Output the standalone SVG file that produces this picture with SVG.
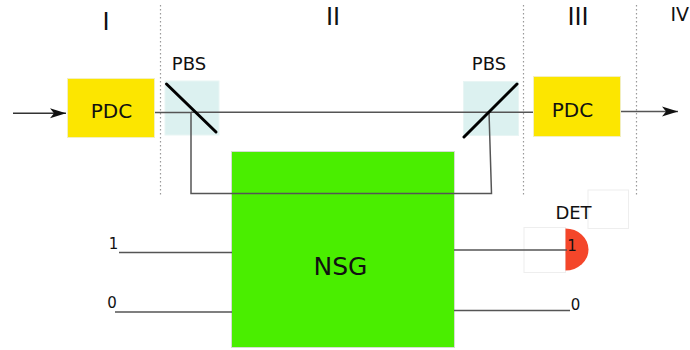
<svg xmlns="http://www.w3.org/2000/svg" width="690" height="350" viewBox="0 0 690 350">
<style>
text{font-family:"DejaVu Sans",sans-serif;fill:#111}
.lb{font-size:18px}
.pd{font-size:20px}
.rom{font-size:24px}
.bit{font-size:15px}
.pdc{fill:#fce600;stroke:#f3efc0;stroke-width:1}
.pbs{fill:#dcf1f0;stroke:#e8f5f4;stroke-width:1}
.dot{stroke:#999;stroke-width:1.2;stroke-dasharray:1.500 2.500;fill:none}
.w{stroke:#555;stroke-width:1.500;fill:none}
.m{stroke:#000;stroke-width:3;stroke-linecap:round}
.ghost{fill:#fff;stroke:#eee;stroke-width:1}
</style>
<defs>
<marker id="a" markerUnits="userSpaceOnUse" markerWidth="18" markerHeight="12" refX="16" refY="6" orient="auto"><path d="M0 1L16 6L0 11L4 6Z" fill="#111"/></marker>
</defs>
<g id="dividers">
<path class="dot" d="M160.500 5V196M523.500 5V196M636.500 5V196"/>
</g>
<g id="node-pbs1"><rect class="pbs" x="165" y="81" width="54" height="54"/></g>
<g id="node-pbs2"><rect class="pbs" x="463.500" y="81.500" width="55" height="54"/></g>
<g id="node-nsg">
<rect x="231.500" y="151.500" width="223" height="196" fill="#4aee00" stroke="#d5ddd0" stroke-width="1"/>
<text x="340.500" y="275" text-anchor="middle" font-size="25">NSG</text>
</g>
<g id="node-det">
<rect class="ghost" x="588" y="190" width="40.500" height="38.500"/>
<rect class="ghost" x="524" y="227.500" width="41.500" height="45"/>
<path d="M565.500 228.500A23 21 0 0 1 565.500 270.500Z" fill="#f4462a"/>
</g>
<g id="connectors">
<path d="M13 113.300H66" class="w" style="stroke:#333" marker-end="url(#a)"/>
<path class="w" d="M154 112.500H191V193.500H491.500L489 112"/>
<path class="w" d="M191 112.300H533"/>
<path class="w" d="M620 111.500H678" marker-end="url(#a)"/>
<path class="w" d="M119 252.500H232M115 312H232M454 250H567M454 310.500H570"/>
</g>
<g id="node-pdc1">
<rect class="pdc" x="67.500" y="78.500" width="87" height="59"/>
<text x="111.500" y="118" text-anchor="middle" class="pd">PDC</text>
</g>
<g id="node-pdc2">
<rect class="pdc" x="533.500" y="76.500" width="87" height="60"/>
<text x="572.500" y="117" text-anchor="middle" class="pd">PDC</text>
</g>
<g id="mirrors">
<path class="m" d="M166.500 84L216 132"/>
<path class="m" d="M517 84L464 137"/>
</g>
<g id="labels">
<text x="106" y="30" text-anchor="middle" class="rom">I</text>
<text x="333" y="25" text-anchor="middle" class="rom">II</text>
<text x="578" y="25" text-anchor="middle" class="rom">III</text>
<text x="670.500" y="21" style="font-size:19px">IV</text>
<text x="189" y="70" text-anchor="middle" class="lb">PBS</text>
<text x="489" y="70" text-anchor="middle" class="lb">PBS</text>
<text x="573.500" y="219" text-anchor="middle" class="lb">DET</text>
<text x="572" y="251" text-anchor="middle" class="bit">1</text>
<text x="575.500" y="310" text-anchor="middle" class="bit">0</text>
<text x="113.500" y="249" text-anchor="middle" class="bit">1</text>
<text x="112" y="308" text-anchor="middle" class="bit">0</text>
</g>
</svg>
